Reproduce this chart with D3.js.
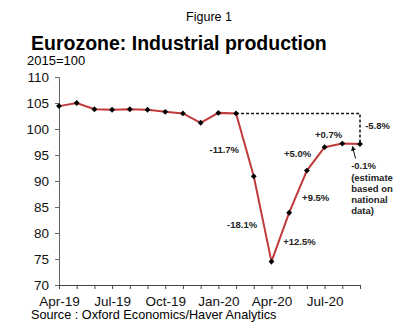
<!DOCTYPE html>
<html>
<head>
<meta charset="utf-8">
<script src="https://cdn.jsdelivr.net/npm/d3@7"></script>
<style>
  body { margin: 0; background: #fff; }
  svg { display: block; font-family: "Liberation Sans", Arial, sans-serif; }
</style>
</head>
<body>
<svg width="406" height="326"></svg>
<script>
// chart data
var months = ["Apr-19", "May-19", "Jun-19", "Jul-19", "Aug-19", "Sep-19", "Oct-19", "Nov-19", "Dec-19",
  "Jan-20", "Feb-20", "Mar-20", "Apr-20", "May-20", "Jun-20", "Jul-20", "Aug-20", "Sep-20"];
var production = [104.4, 105.0, 103.8, 103.7, 103.8, 103.7, 103.3, 103.0, 101.2,
  103.1, 103.0, 90.9, 74.5, 83.9, 92.0, 96.5, 97.2, 97.1];
var yTicks = [70, 75, 80, 85, 90, 95, 100, 105, 110];
var xTickLabels = ["Apr-19", "Jul-19", "Oct-19", "Jan-20", "Apr-20", "Jul-20"];

// annotations: label, position in (month index, value) space
var notes = [
  { text: "-11.7%", i: 10.17, v: 95.4, anchor: "end" },
  { text: "-18.1%", i: 11.19, v: 80.9, anchor: "end" },
  { text: "+12.5%", i: 12.66, v: 77.7, anchor: "start" },
  { text: "+9.5%", i: 13.73, v: 86.1, anchor: "start" },
  { text: "+5.0%", i: 12.71, v: 94.6, anchor: "start" },
  { text: "+0.7%", i: 14.46, v: 98.25, anchor: "start" },
  { text: "-5.8%", i: 17.29, v: 100.0, anchor: "start" },
  { text: "-0.1%", i: 16.5, v: 92.3, anchor: "start" }
];
var estimateLines = ["(estimate", "based on", "national", "data)"];

var svg = d3.select("svg"),
  width = +svg.attr("width"),
  height = +svg.attr("height");

var margin = { left: 59, right: 46, top: 77, bottom: 41 };

var x = d3.scaleLinear()
  .domain([0, months.length - 1])
  .range([margin.left, width - margin.right]);

var y = d3.scaleLinear()
  .domain([70, 110])
  .range([height - margin.bottom, margin.top]);

// titles
svg.append("text")
  .attr("x", 209).attr("y", 21)
  .attr("text-anchor", "middle")
  .style("font-size", "12.5px")
  .text("Figure 1");

svg.append("text")
  .attr("x", 31).attr("y", 50)
  .style("font-size", "19.5px")
  .style("font-weight", "bold")
  .text("Eurozone: Industrial production");

svg.append("text")
  .attr("x", 27).attr("y", 65)
  .style("font-size", "13px")
  .text("2015=100");

// y axis
var yAxis = svg.append("g")
  .attr("transform", "translate(" + margin.left + ",0)")
  .call(d3.axisLeft(y).tickValues(yTicks).tickSize(4).tickPadding(6));
yAxis.select(".domain").attr("stroke", "#666");
yAxis.selectAll(".tick line").attr("stroke", "#666");
yAxis.selectAll(".tick text")
  .style("font-size", "13.5px")
  .style("font-family", "Liberation Sans, Arial, sans-serif")
  .attr("fill", "#111");

// x axis
var xAxis = svg.append("g")
  .attr("transform", "translate(0," + y(70) + ")")
  .call(d3.axisBottom(x)
    .tickValues(d3.range(months.length))
    .tickSize(4)
    .tickPadding(7)
    .tickFormat(function (d) {
      return xTickLabels.indexOf(months[d]) >= 0 ? months[d] : "";
    }));
xAxis.select(".domain").attr("stroke", "#444");
xAxis.selectAll(".tick line").attr("stroke", "#444");
xAxis.selectAll(".tick text")
  .style("font-size", "13.5px")
  .style("font-family", "Liberation Sans, Arial, sans-serif")
  .attr("fill", "#111");

// dashed bracket from Feb-20 level to latest month
var feb = months.indexOf("Feb-20"), last = months.length - 1;
svg.append("path")
  .attr("d", "M" + x(feb) + "," + y(production[feb]) +
    "H" + x(last) + "V" + y(production[last]))
  .attr("fill", "none")
  .attr("stroke", "#111")
  .attr("stroke-width", 1.5)
  .attr("stroke-dasharray", "3,2");

// line
var line = d3.line()
  .x(function (d, i) { return x(i); })
  .y(function (d) { return y(d); });

svg.append("path")
  .datum(production)
  .attr("d", line)
  .attr("fill", "none")
  .attr("stroke", "#c0393b")
  .attr("stroke-width", 2);

// diamond markers (rotated squares)
svg.append("g")
  .selectAll("path")
  .data(production)
  .enter().append("path")
  .attr("transform", function (d, i) { return "translate(" + x(i) + "," + y(d) + ") rotate(45)"; })
  .attr("d", d3.symbol().type(d3.symbolSquare).size(17))
  .attr("fill", "#000");

// annotations
svg.append("g")
  .selectAll("text")
  .data(notes)
  .enter().append("text")
  .attr("x", function (d) { return x(d.i); })
  .attr("y", function (d) { return y(d.v); })
  .attr("text-anchor", function (d) { return d.anchor; })
  .style("font-size", "9.5px")
  .style("font-weight", "bold")
  .attr("fill", "#222")
  .text(function (d) { return d.text; });

svg.append("g")
  .selectAll("text")
  .data(estimateLines)
  .enter().append("text")
  .attr("x", x(16.5))
  .attr("y", function (d, i) { return y(92.3) + 12 + i * 11; })
  .style("font-size", "9.5px")
  .style("font-weight", "bold")
  .attr("fill", "#222")
  .text(function (d) { return d; });

// small arrow pointing at the latest estimate
svg.append("defs").append("marker")
  .attr("id", "arr")
  .attr("viewBox", "0 0 10 10")
  .attr("refX", 5).attr("refY", 5)
  .attr("markerWidth", 5).attr("markerHeight", 5)
  .attr("orient", "auto")
  .append("path")
  .attr("d", "M0,0L10,5L0,10z")
  .attr("fill", "#111");

svg.append("line")
  .attr("x1", x(16.75)).attr("y1", y(94.3))
  .attr("x2", x(16.6)).attr("y2", y(96.3))
  .attr("stroke", "#111")
  .attr("stroke-width", 1)
  .attr("marker-end", "url(#arr)");

// source
svg.append("text")
  .attr("x", 31).attr("y", 319)
  .style("font-size", "12.7px")
  .text("Source : Oxford Economics/Haver Analytics");
</script>
</body>
</html>
